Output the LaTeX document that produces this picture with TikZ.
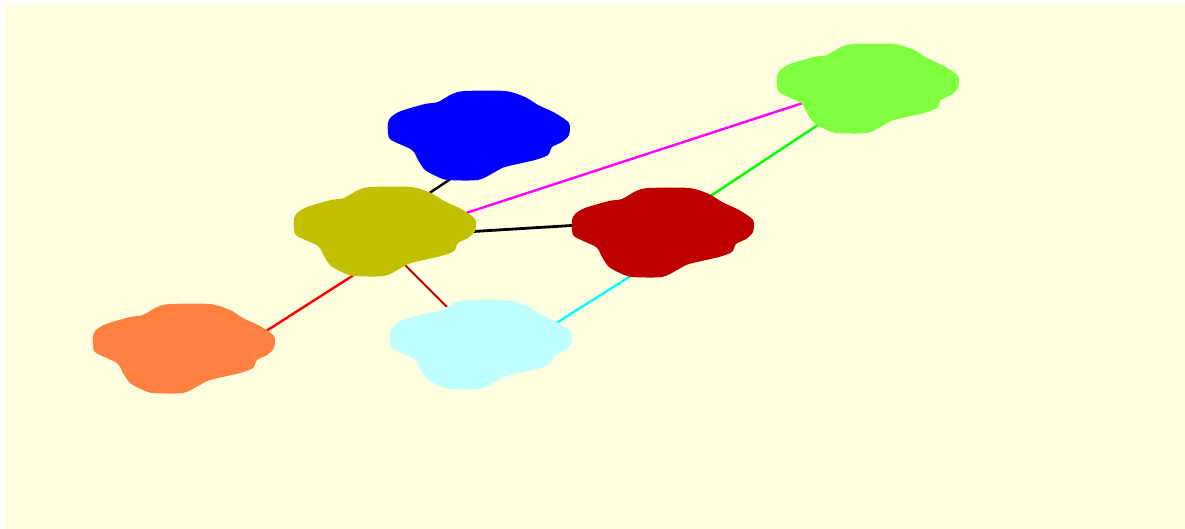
\documentclass[tikz,border=0pt]{standalone}
\begin{document}
\begin{tikzpicture}[x=1pt,y=-1pt,
  blob/.pic={
    \fill[pic actions] plot[smooth cycle, tension=0.45] coordinates {
      (77,0) (117,0) (137,6) (150,14) (167,22) (181,32) (181,44) (174,51)
      (164,56) (160,64) (147,69) (117,76) (107,81) (90,89) (60,89) (50,86)
      (37,79) (30,69) (24,59) (3,49) (0,42) (0,32) (3,26) (13,20) (37,13)
      (50,11) (64,3)};
  },
  link/.style={line width=2.4pt, line cap=butt}]
\definecolor{paper}{RGB}{255,255,224}
\definecolor{cBlue}{RGB}{0,0,255}
\definecolor{cLime}{RGB}{128,255,64}
\definecolor{cMaroon}{RGB}{190,0,0}
\definecolor{cOlive}{RGB}{192,192,0}
\definecolor{cOrange}{RGB}{255,128,64}
\definecolor{cIce}{RGB}{192,255,255}
\definecolor{lMagenta}{RGB}{255,0,255}
\definecolor{lGreen}{RGB}{0,255,0}
\definecolor{lRed}{RGB}{255,0,0}
\definecolor{lDark}{RGB}{192,0,0}
\definecolor{lCyan}{RGB}{0,255,255}

% page and background
\useasboundingbox (0,0) rectangle (1185,529);
\fill[white] (0,0) rectangle (1185,529);
\fill[paper] (6,4) rectangle (1185,529);

% cloud centres and connector ends
\coordinate (blue)   at (478,135);
\coordinate (lime)   at (867,89);
\coordinate (maroon) at (662,234);
\coordinate (olive)  at (384,232);
\coordinate (orange) at (183,349);
\coordinate (ice)    at (480,344);

\coordinate (blue-s)    at (452,178);
\coordinate (olive-n)   at (422,198);
\coordinate (olive-ne)  at (460,215);
\coordinate (lime-sw)   at (806,102);
\coordinate (olive-e)   at (465,232);
\coordinate (maroon-w)  at (580,225);
\coordinate (maroon-ne) at (706,199);
\coordinate (lime-s)    at (824,121);
\coordinate (olive-sw)  at (360,271);
\coordinate (orange-ne) at (260,335);
\coordinate (olive-s)   at (404,264);
\coordinate (ice-n)     at (447,307);
\coordinate (ice-ne)    at (550,327);
\coordinate (maroon-s)  at (634,274);

% connectors
\draw[link, black]          (blue-s)    -- (olive-n);
\draw[link, lMagenta]       (olive-ne)  -- (lime-sw);
\draw[link, black, line width=2.8pt] (olive-e) -- (maroon-w);
\draw[link, lGreen]         (maroon-ne) -- (lime-s);
\draw[link, lRed]           (olive-sw)  -- (orange-ne);
\draw[link, lDark, line width=2pt] (olive-s) -- (ice-n);
\draw[link, lCyan]          (ice-ne)    -- (maroon-s);

% clouds
\pic[fill=cBlue]   at (388,91)  {blob};
\pic[fill=cLime]   at (777,44)  {blob};
\pic[fill=cMaroon] at (572,188) {blob};
\pic[fill=cOlive]  at (294,187) {blob};
\pic[fill=cOrange] at (93,304)  {blob};
\pic[fill=cIce]    at (390,300) {blob};
\end{tikzpicture}
\end{document}
